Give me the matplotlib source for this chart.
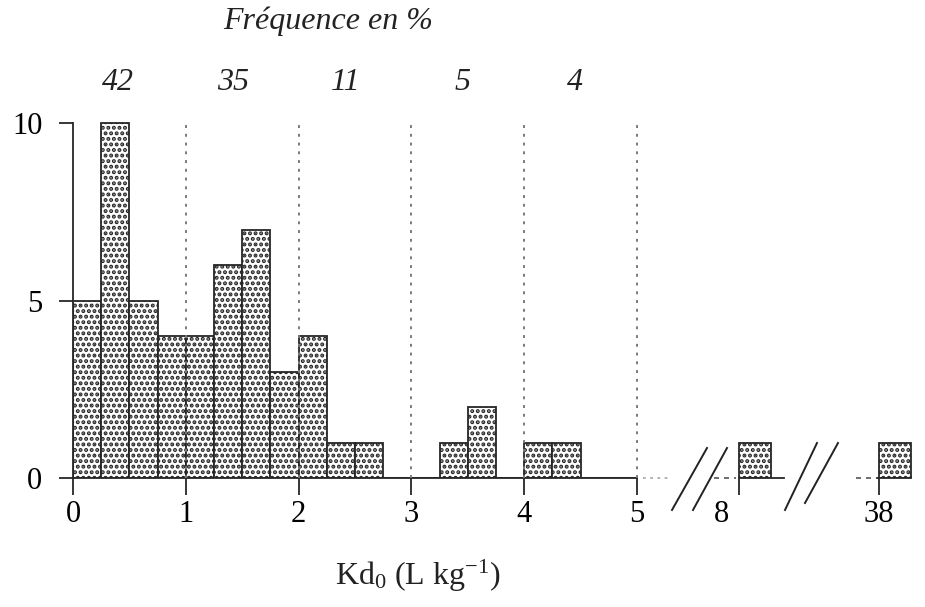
import numpy as np
import matplotlib
matplotlib.use('Agg')
import matplotlib.pyplot as plt
from matplotlib.lines import Line2D
from matplotlib.transforms import ScaledTranslation

plt.rcParams['font.family'] = ['Liberation Serif', 'DejaVu Serif']
plt.rcParams['mathtext.fontset'] = 'custom'
plt.rcParams['mathtext.rm'] = 'Liberation Serif'
plt.rcParams['mathtext.it'] = 'Liberation Serif:italic'
plt.rcParams['hatch.linewidth'] = 2.0

# histogram of Kd0, bins of 0.25 L/kg
bin_left = np.arange(0, 5, 0.25)
counts = [5, 10, 5, 4, 4, 6, 7, 3, 4, 1, 1, 0, 0, 1, 2, 0, 1, 1, 0, 0]
# isolated outliers
outlier_x = [8, 38]
outlier_n = [1, 1]
# frequency (%) per unit interval
freq_pos = [0.40, 1.42, 2.42, 3.45, 4.45]
freq_lbl = ['42', '35', '11', '5', '4']

W, H = 925, 607
fig = plt.figure(figsize=(W / 100, H / 100), dpi=100)

pxu = 112.8   # pixels per x unit
pyu = 35.5    # pixels per y unit
x0, y0 = 73, 478
fs = 22

def px_axes(left, right, ytop):
    return fig.add_axes([left / W, (H - y0) / H, (right - left) / W, (y0 - ytop) / H])

edge = '#262626'
ax = px_axes(x0, x0 + 5.35 * pxu, y0 - 10.4 * pyu)
ax.bar(bin_left, counts, width=0.25, align='edge', facecolor='white',
       edgecolor=edge, hatch='...', linewidth=1.3, zorder=2)
for k in range(1, 6):
    ax.plot([k, k], [0, 10.05], ls=(0, (1.5, 3)), color='#7a7a7a', lw=1.4, zorder=3)
ax.plot([5.05, 5.3], [0, 0], ls=(0, (1.5, 2.5)), color='#aaaaaa', lw=1.3, clip_on=False)
ax.set_xlim(0, 5.35)
ax.set_ylim(0, 10.4)
ax.set_xticks(range(6))
ax.set_yticks([0, 5, 10])
ax.spines['top'].set_visible(False)
ax.spines['right'].set_visible(False)
ax.spines['left'].set_bounds(0, 10)
ax.spines['bottom'].set_bounds(0, 5)
for s in ('left', 'bottom'):
    ax.spines[s].set_linewidth(1.3)
    ax.spines[s].set_color(edge)
ax.tick_params(axis='x', length=12, width=1.3, color=edge, labelsize=fs, pad=4)
ax.tick_params(axis='y', length=10, width=1.3, color=edge, labelsize=fs, pad=12)

for xp, t in zip(freq_pos, freq_lbl):
    ax.text(xp, 11.15, t, ha='center', va='center', style='italic', fontsize=fs + 1,
            color='#222222', clip_on=False)

# broken-axis panels for the two outliers
panels = [(739, -0.22, 8.4, -17), (879, -0.2, 38.3, 0)]
for xv, nv, (xpix, dl, spine_hi, sh) in zip(outlier_x, outlier_n, panels):
    a = px_axes(xpix - 0.3 * pxu, xpix + 0.45 * pxu, y0 - 10.4 * pyu)
    a.bar([xv], [nv], width=0.28, align='edge', facecolor='white',
          edgecolor=edge, hatch='...', linewidth=1.3, zorder=2)
    a.plot([xv + dl, xv - 0.03], [0, 0], ls=(0, (3, 3)), color='#555555', lw=1.2, clip_on=False)
    a.set_xlim(xv - 0.3, xv + 0.45)
    a.set_ylim(0, 10.4)
    a.set_yticks([])
    a.set_xticks([xv])
    for s in ('top', 'right', 'left'):
        a.spines[s].set_visible(False)
    a.spines['bottom'].set_bounds(xv - (0.02 if xv > 10 else 0), spine_hi - (0.02 if xv > 10 else 0))
    a.spines['bottom'].set_linewidth(1.3)
    a.spines['bottom'].set_color(edge)
    a.patch.set_visible(False)
    a.tick_params(axis='x', length=12, width=1.3, color=edge, labelsize=fs, pad=4)
    for lab in a.get_xticklabels():
        lab.set_transform(lab.get_transform() + ScaledTranslation(sh / 100, 0, fig.dpi_scale_trans))

# break marks
for (xa, ya, xb, yb) in [(672, 510, 707, 448), (693, 510, 727, 448),
                         (785, 510, 817, 443), (805, 503, 838, 443)]:
    fig.add_artist(Line2D([xa / W, xb / W], [1 - ya / H, 1 - yb / H],
                          color='#222222', lw=1.4, transform=fig.transFigure))

fig.text(328 / W, 1 - 21 / H, 'Fréquence en %', ha='center', va='center',
         style='italic', fontsize=fs + 1, color='#222222')
fig.text(418 / W, 1 - 576 / H, r'Kd$_\mathregular{0}$ (L kg$^\mathregular{-1}$)',
         ha='center', va='center', fontsize=fs + 1, color='#222222')

fig.savefig('out.png', dpi=100, facecolor='white')
